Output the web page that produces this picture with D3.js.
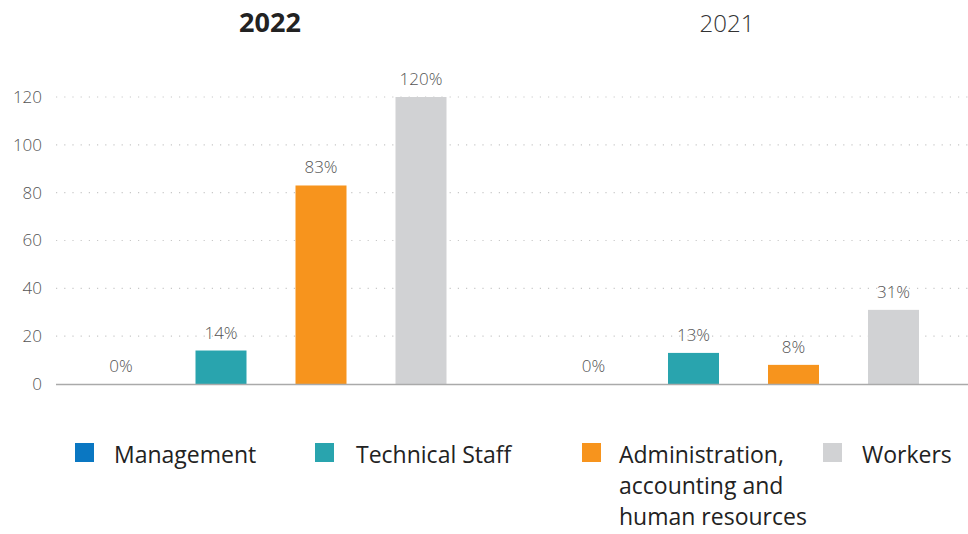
<!DOCTYPE html>
<html>
<head>
<meta charset="utf-8">
<script src="https://cdn.jsdelivr.net/npm/d3@7"></script>
<style>
  body { margin: 0; background: #fff; }
  svg { font-family: "Open Sans", "Noto Sans", sans-serif; }
</style>
</head>
<body>
<svg id="chart" width="968" height="534"></svg>
<script>
var years = ['2022', '2021'];
var categories = ['Management', 'Technical Staff', 'Administration, accounting and human resources', 'Workers'];
var values2022 = [0, 14, 83, 120];
var values2021 = [0, 13, 8, 31];
var yTicks = [0, 20, 40, 60, 80, 100, 120];
var colors = ['#0a77c2', '#29a4ae', '#f7941d', '#d1d2d4'];
var legendLines = [['Management'], ['Technical Staff'], ['Administration,', 'accounting and', 'human resources'], ['Workers']];

var svg = d3.select('#chart');

var data = years.map(function(y, i) {
  var vals = i === 0 ? values2022 : values2021;
  return { year: y, values: categories.map(function(c, j) { return { cat: c, value: vals[j] }; }) };
});

var yScale = d3.scaleLinear()
    .domain([0, 120])
    .range([384, 97]);

var xGroup = d3.scaleBand()
    .domain(years)
    .range([35, 980]);

var xInner = d3.scaleBand()
    .domain(categories)
    .range([36, 436])
    .paddingInner(0.49)
    .paddingOuter(0.245);

// grid lines
svg.append('g')
  .selectAll('line')
  .data(yTicks.filter(function(d){ return d > 0; }))
  .enter()
  .append('line')
  .attr('x1', 56)
  .attr('x2', 968)
  .attr('y1', function(d){ return yScale(d); })
  .attr('y2', function(d){ return yScale(d); })
  .attr('stroke', '#c8c8c8')
  .attr('stroke-width', 1.2)
  .attr('stroke-dasharray', '1.2,7');

// y axis labels
var yAxis = d3.axisLeft(yScale).tickValues(yTicks).tickSize(0).tickPadding(0);
var yG = svg.append('g')
  .attr('transform', 'translate(42,0)')
  .call(yAxis);
yG.select('.domain').remove();
yG.selectAll('text')
  .attr('font-size', 17)
  .attr('font-weight', 300)
  .attr('fill', '#555')
  .attr('font-family', '"Open Sans", sans-serif');

// groups
var groups = svg.selectAll('g.year')
  .data(data)
  .enter()
  .append('g')
  .attr('class', 'year')
  .attr('transform', function(d){ return 'translate(' + xGroup(d.year) + ',0)'; });

groups.selectAll('rect')
  .data(function(d){ return d.values; })
  .enter()
  .append('rect')
  .attr('x', function(d){ return xInner(d.cat); })
  .attr('width', xInner.bandwidth())
  .attr('y', function(d){ return yScale(d.value); })
  .attr('height', function(d){ return yScale(0) - yScale(d.value); })
  .attr('fill', function(d, i){ return colors[i]; });

groups.selectAll('text.val')
  .data(function(d){ return d.values; })
  .enter()
  .append('text')
  .attr('class', 'val')
  .attr('x', function(d){ return xInner(d.cat) + xInner.bandwidth() / 2; })
  .attr('y', function(d){ return yScale(d.value) - 12; })
  .attr('text-anchor', 'middle')
  .attr('font-size', 17)
  .attr('font-weight', 300)
  .attr('fill', '#555')
  .text(function(d){ return d.value + '%'; });

// baseline
svg.append('line')
  .attr('x1', 56)
  .attr('x2', 968)
  .attr('y1', yScale(0) + 0.5)
  .attr('y2', yScale(0) + 0.5)
  .attr('stroke', '#aaa')
  .attr('stroke-width', 1.5);

// year titles
svg.append('text')
  .attr('x', 270)
  .attr('y', 32)
  .attr('text-anchor', 'middle')
  .attr('font-size', 27)
  .attr('font-weight', 700)
  .attr('fill', '#222')
  .text(years[0]);

svg.append('text')
  .attr('x', 727)
  .attr('y', 32)
  .attr('text-anchor', 'middle')
  .attr('font-size', 24)
  .attr('font-weight', 300)
  .attr('fill', '#333')
  .text(years[1]);

// legend
var legendX = [75, 315, 582, 823];
var legendPad = [39, 41, 37, 39];
var leg = svg.selectAll('g.legend')
  .data(legendLines)
  .enter()
  .append('g')
  .attr('class', 'legend')
  .attr('transform', function(d, i){ return 'translate(' + legendX[i] + ',443)'; });

leg.append('rect')
  .attr('width', 19)
  .attr('height', 19)
  .attr('fill', function(d, i){ return colors[i]; });

leg.each(function(lines, i) {
  d3.select(this).append('text')
    .attr('y', 20)
    .attr('font-size', 23)
    .attr('fill', '#222')
    .selectAll('tspan')
    .data(lines)
    .enter()
    .append('tspan')
    .attr('x', legendPad[i])
    .attr('dy', function(d, k){ return k === 0 ? 0 : 31; })
    .text(function(d){ return d; });
});
</script>
</body>
</html>
